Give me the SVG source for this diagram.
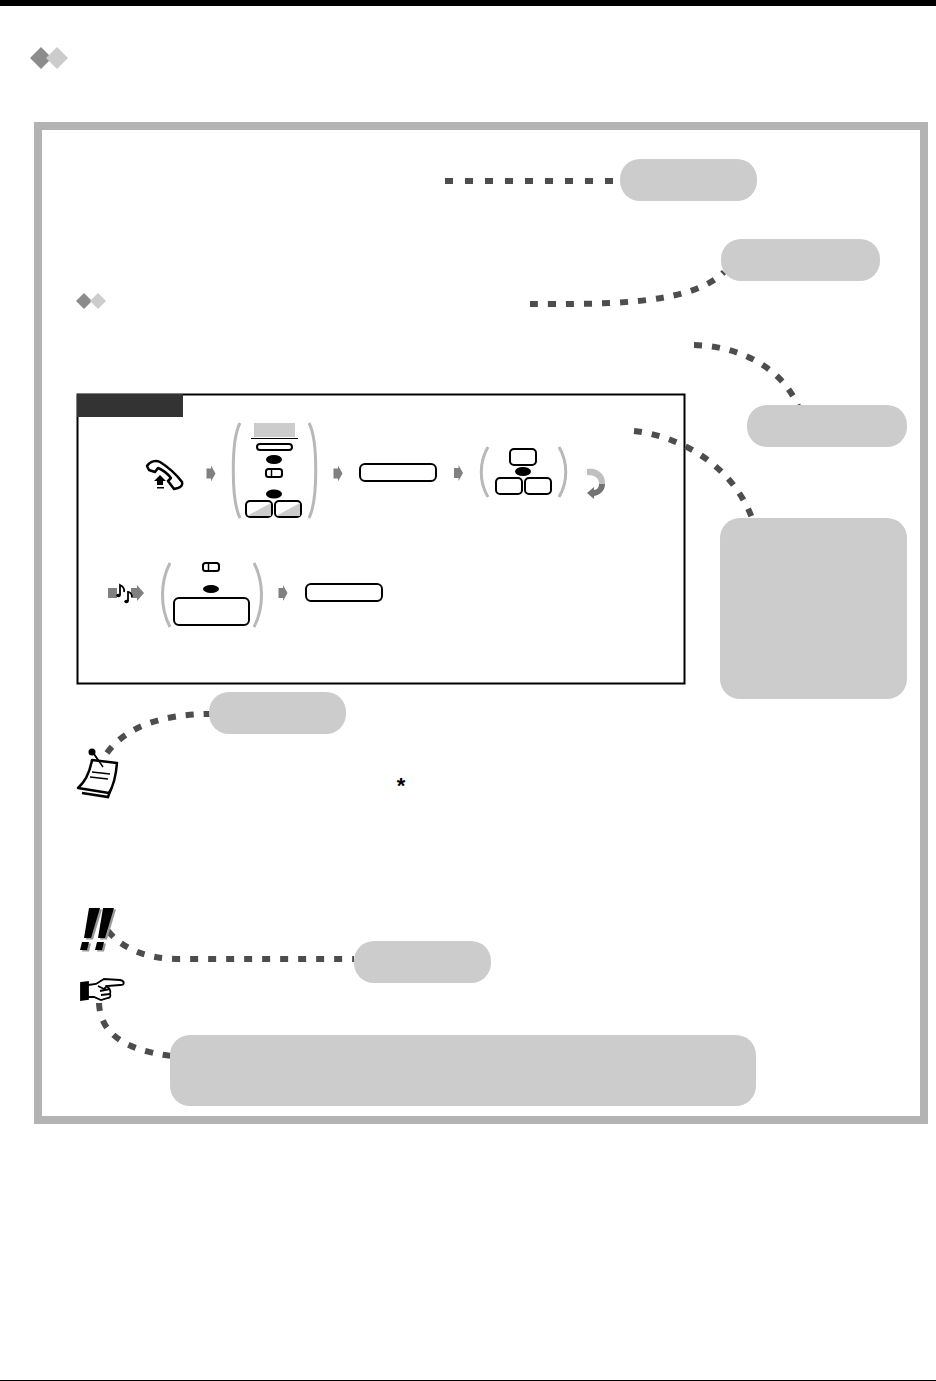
<svg xmlns="http://www.w3.org/2000/svg" width="936" height="1381" viewBox="0 0 936 1381">
<style>
.dot{fill:none;stroke:#4d4d4d;stroke-width:6;stroke-dasharray:8 10}
.bub{fill:#cccccc}
.key{fill:#fff;stroke:#000;stroke-width:2}
.oval{fill:#000}
.par{fill:none;stroke:#b8b8b8;stroke-width:3}
.arr{fill:#808080}
</style>
<defs>
<path id="ar" d="M-4.500 -5L0 -5L0 -8L4.500 0L0 8L0 5L-4.500 5Z"/>
</defs>
<rect width="936" height="6" fill="#000"/>
<rect y="1380" width="936" height="1" fill="#000"/>
<g id="title-mark"><path d="M41 47L52 58L41 69L30 58Z" fill="#8c8c8c"/><path d="M57 47L68 58L57 69L46 58Z" fill="#cccccc"/></g>
<rect id="frame" x="38" y="126" width="886" height="994" fill="none" stroke="#b3b3b3" stroke-width="8"/>
<g id="sub-mark"><path d="M84 293L92 301L84 309L76 301Z" fill="#8c8c8c"/><path d="M98 293L106 301L98 309L90 301Z" fill="#cccccc"/></g>
<g id="procedure">
<rect x="77.500" y="394.500" width="607" height="289" fill="#fff" stroke="#000" stroke-width="2"/>
<rect x="77" y="394" width="106" height="23" fill="#333"/>
</g>
<g id="connectors">
<path class="dot" d="M445 181L620 181" style="stroke-dasharray:8 12"/>
<path class="dot" d="M530 304C600 304 690 306 724 272"/>
<path class="dot" d="M694 345C740 346 782 368 798 406"/>
<path class="dot" d="M634 431C680 436 732 465 752 518"/>
<path class="dot" d="M107 753C125 728 160 714 210 714"/>
<path class="dot" d="M108 931C122 948 145 959 180 959L354 959"/>
<path class="dot" d="M99 1003C100 1030 120 1050 172 1056"/>
</g>
<g id="bubbles">
<rect id="b1" class="bub" x="620" y="159" width="137" height="42" rx="20"/>
<rect id="b2" class="bub" x="721" y="239" width="159" height="42" rx="20"/>
<rect id="b3" class="bub" x="747" y="405" width="160" height="42" rx="20"/>
<rect id="b4" class="bub" x="720" y="518" width="187" height="181" rx="20"/>
<rect id="b5" class="bub" x="209" y="692" width="137" height="42" rx="20"/>
<rect id="b6" class="bub" x="354" y="941" width="137" height="42" rx="20"/>
<rect id="b7" class="bub" x="170" y="1035" width="586" height="71" rx="20"/>
</g>
<g id="handset">
<path d="M147 466C150 461 156 460 160 462C168 467 176 474 182 482C183 485 181 487 178 488L174 489L168 481L171 478C167 473 163 470 158 468L155 472L149 470Z" fill="#fff" stroke="#000" stroke-width="2.500" stroke-linejoin="round"/>
<path d="M160 475L166 481L163 481L163 485L157 485L157 481L154 481Z" fill="#000"/>
<rect x="157" y="487" width="7" height="1.500" fill="#000"/>
</g>
<g id="arrows" class="arr">
<use href="#ar" x="211" y="473.500"/><use href="#ar" x="338" y="473.500"/><use href="#ar" x="458.500" y="473"/><use href="#ar" x="283" y="593"/>
</g>
<g id="group1">
<path class="par" d="M240 423C231 440 231 500 240 518"/>
<path class="par" d="M309 423C318 440 318 500 309 518"/>
<rect x="254" y="423" width="41" height="14" fill="#cccccc"/>
<rect x="251" y="438" width="47" height="1" fill="#000"/>
<rect class="key" x="257" y="444" width="35" height="6" rx="3"/>
<ellipse class="oval" cx="274" cy="459.500" rx="8" ry="4.500"/>
<rect class="key" x="266" y="469" width="16" height="8" rx="2.500"/><path d="M271.500 469V477" stroke="#000" stroke-width="1.500"/>
<ellipse class="oval" cx="274" cy="494" rx="8" ry="4.500"/>
<g id="k1"><rect class="key" x="246" y="501" width="26" height="16" rx="4"/><path d="M247 516L271 516L271 503Z" fill="#cccccc"/></g>
<g id="k2"><rect class="key" x="275" y="501" width="26" height="16" rx="4"/><path d="M276 516L300 516L300 503Z" fill="#cccccc"/></g>
</g>
<rect id="entry1" class="key" x="360" y="464" width="76" height="17" rx="5"/>
<g id="group2">
<path class="par" d="M488 447C479 462 479 482 488 497"/>
<path class="par" d="M559 447C568 462 568 482 559 497"/>
<rect class="key" x="510" y="449" width="26" height="16" rx="4"/>
<ellipse class="oval" cx="523" cy="471.500" rx="8" ry="4.500"/>
<rect class="key" x="496" y="478" width="26" height="16" rx="4"/>
<rect class="key" x="525" y="478" width="26" height="16" rx="4"/>
</g>
<g id="repeat">
<path d="M587 469C598 467 606 475 605 484L599 484C599 478 595 475 587 475Z" fill="#bfbfbf"/>
<path d="M605 484C605 491 600 495 594 496L594 499L587 493L594 487L594 490C597 490 599 487 599 484Z" fill="#737373"/>
</g>
<g id="tone">
<rect x="108" y="588" width="9" height="10" fill="#808080"/>
<path d="M131 588L137 588L137 585L144 593L137 601L137 598L131 598Z" fill="#808080"/>
<g fill="none" stroke="#000" stroke-width="1.800">
<path d="M120 595V585C122 586 125 588 124 592"/>
<path d="M128 601V592C130 592 132 594 132 597"/>
</g>
<ellipse cx="118.500" cy="595.500" rx="2.200" ry="1.800" fill="#000"/>
<ellipse cx="126.500" cy="601.500" rx="2.200" ry="1.800" fill="#000"/>
</g>
<g id="group3">
<path class="par" d="M170 563C160 582 160 608 170 627"/>
<path class="par" d="M254 563C264 582 264 608 254 627"/>
<rect class="key" x="203" y="563" width="16" height="8" rx="2.500"/><path d="M208.500 563V571" stroke="#000" stroke-width="1.500"/>
<ellipse class="oval" cx="211" cy="589" rx="8" ry="4"/>
<rect class="key" x="174" y="598" width="75" height="27" rx="5"/>
</g>
<rect id="entry2" class="key" x="306" y="584" width="76" height="17" rx="5"/>
<g id="note-icon">
<circle cx="92" cy="752" r="3.500" fill="#000"/>
<path d="M94 754L103 767" stroke="#000" stroke-width="1.500"/>
<path d="M82 793L108 797L112 786" fill="none" stroke="#000" stroke-width="2.500"/>
<path d="M92 760L117 763C116 775 114 785 109 793L78 788C86 781 90 771 92 760Z" fill="#fff" stroke="#000" stroke-width="2.500" stroke-linejoin="round"/>
<path d="M92 772L110 774M90 777L108 779" stroke="#000" stroke-width="1.500"/>
<path d="M94 754L103 767" stroke="#000" stroke-width="1.500"/>
</g>
<text id="asterisk" x="401" y="793" font-family="Liberation Sans, sans-serif" font-size="22" font-weight="700" text-anchor="middle">*</text>
<g id="warn-icon">
<g fill="#999" transform="translate(2 1.500)"><path d="M89 908L100 908L91 938L84 938Z"/><path d="M82 942L89 942L87 950L80 950Z"/><path d="M103 908L114 908L105 938L98 938Z"/><path d="M97 942L104 942L102 950L95 950Z"/></g>
<path d="M89 908L100 908L91 938L84 938Z"/><path d="M82 942L89 942L87 950L80 950Z"/><path d="M103 908L114 908L105 938L98 938Z"/><path d="M97 942L104 942L102 950L95 950Z"/>
</g>
<g id="hand-icon" fill="none" stroke="#000" stroke-width="1.800">
<path d="M81 983L88 982L88 999L81 1000Z" fill="#000"/>
<path d="M88 985L96 984L104 979L120 980C125 981 125 985 120 985L107 986C110 989 111 992 110 994C111 996 110 998 108 998L101 1000L94 997L88 997Z" fill="#fff"/>
<path d="M98 986L104 989L107 986M100 991L110 989M101 995L110 994"/>
</g>
</svg>
